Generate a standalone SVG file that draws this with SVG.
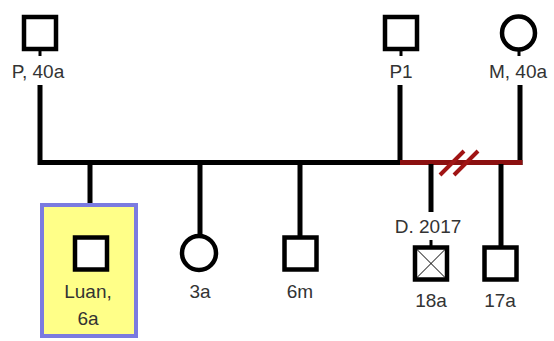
<svg xmlns="http://www.w3.org/2000/svg" width="554" height="341" viewBox="0 0 554 341">
  <style>
    .line { fill: none; stroke: #000; stroke-width: 5; stroke-linecap: butt; stroke-linejoin: miter; }
    .rel { fill: none; stroke: #8b1010; stroke-width: 5; }
    .cut { fill: none; stroke: #a01414; stroke-width: 4; }
    .sym { fill: #fff; stroke: #000; stroke-width: 4.5; }
    .stub { stroke: #000; stroke-width: 3; }
    .cross { stroke: #000; stroke-width: 1; }
    .lbl { font-family: "Liberation Sans", Arial, sans-serif; font-size: 19px; fill: #333; text-anchor: middle; }
    .focus { fill: #ffff88; stroke: #7b7be0; stroke-width: 4; }
  </style>

  <g id="connectors">
    <path class="line" d="M40,85 V162.5 H402"/>
    <path class="line" d="M400,85 V165"/>
    <path class="line" d="M520,85 V165"/>
    <path class="rel" d="M400,162.5 H522.5"/>
    <path class="cut" d="M440,175 L464,151 M454,175 L478,151"/>
    <path class="line" d="M90,162 V204"/>
    <path class="line" d="M200,162 V236"/>
    <path class="line" d="M300,162 V236"/>
    <path class="line" d="M431,164 V212"/>
    <path class="line" d="M501,164 V247"/>
  </g>

  <g id="p">
    <rect class="sym" x="24" y="17" width="32" height="32"/>
    <line class="stub" x1="40" y1="51" x2="40" y2="56"/>
    <text class="lbl" x="38" y="78">P, 40a</text>
  </g>

  <g id="p1">
    <rect class="sym" x="385" y="17" width="32" height="32"/>
    <line class="stub" x1="401" y1="51" x2="401" y2="56"/>
    <text class="lbl" x="401" y="78">P1</text>
  </g>

  <g id="m">
    <circle class="sym" cx="518.5" cy="33" r="16.5"/>
    <line class="stub" x1="519" y1="51" x2="519" y2="56"/>
    <text class="lbl" x="518" y="78">M, 40a</text>
  </g>

  <g id="luan">
    <rect class="focus" x="42" y="205" width="94" height="131"/>
    <rect class="sym" x="75" y="237.5" width="32" height="32"/>
    <text class="lbl" x="88" y="298">Luan,</text>
    <text class="lbl" x="88" y="325">6a</text>
  </g>

  <g id="child-3a">
    <circle class="sym" cx="199" cy="253" r="17"/>
    <text class="lbl" x="200" y="298">3a</text>
  </g>

  <g id="child-6m">
    <rect class="sym" x="284.5" y="237.5" width="32" height="32"/>
    <text class="lbl" x="300" y="298">6m</text>
  </g>

  <g id="child-18a">
    <text class="lbl" x="428" y="233">D. 2017</text>
    <line class="stub" x1="431" y1="240" x2="431" y2="246"/>
    <rect class="sym" x="415" y="247.5" width="32" height="32"/>
    <path class="cross" d="M417,249.5 L445,277.5 M445,249.5 L417,277.5"/>
    <text class="lbl" x="431" y="307">18a</text>
  </g>

  <g id="child-17a">
    <rect class="sym" x="484.5" y="247.5" width="32" height="32"/>
    <text class="lbl" x="500" y="307">17a</text>
  </g>
</svg>
